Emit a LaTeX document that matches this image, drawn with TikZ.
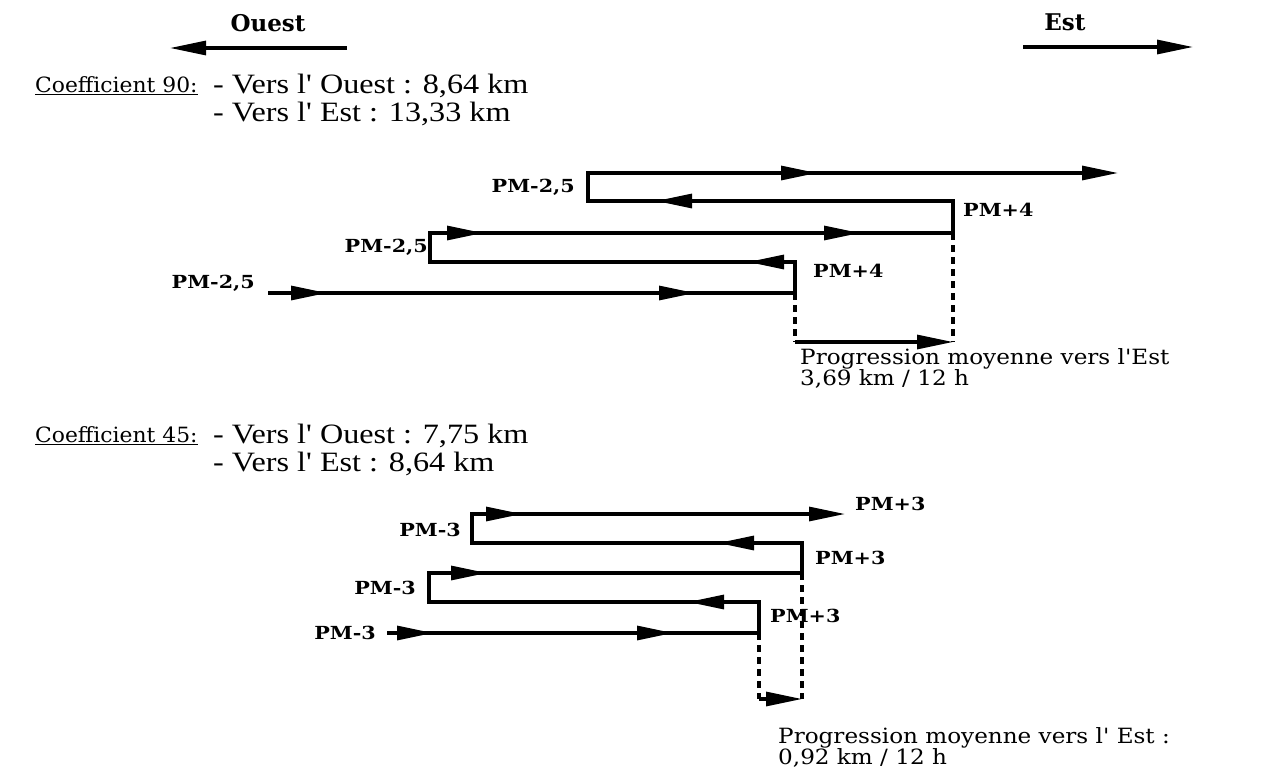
\documentclass[tikz,border=0pt]{standalone}
\usepackage{fontspec}
\setmainfont{Liberation Serif}
\newfontfamily\dvs{DejaVu Serif}
\newfontfamily\pmfont[FakeStretch=1.15]{DejaVu Serif}
\newfontfamily\progfont[FakeStretch=1.1]{DejaVu Serif}
\newfontfamily\coeffont[FakeStretch=1.04]{DejaVu Serif}
\newfontfamily\versfont[FakeStretch=1.15]{Liberation Serif}
\usetikzlibrary{arrows.meta}
\begin{document}
\begin{tikzpicture}[x=1pt,y=-1pt,
  ln/.style={line width=3.1pt, line join=miter},
  tp/.style={-{Triangle[length=36pt,width=14pt]}},
  dsh/.style={line width=3.1pt, dash pattern=on 7pt off 5pt},
  pm/.style={font=\pmfont\bfseries\fontsize{18}{18}\selectfont, inner sep=0pt},
  hd/.style={font=\dvs\bfseries\fontsize{23}{23}\selectfont, inner sep=0pt},
  coef/.style={font=\coeffont\fontsize{21}{21}\selectfont, inner sep=0pt, anchor=west},
  vers/.style={font=\versfont\fontsize{28}{28}\selectfont, inner sep=0pt, anchor=west},
  prog/.style={font=\progfont\fontsize{21}{21}\selectfont, inner sep=0pt, align=left, anchor=north west}]
\useasboundingbox (0,0) rectangle (1265,771);
% header
\node[hd] (ouest) at (268,23) {Ouest};
\node[hd] (est) at (1065,22) {Est};
\coordinate (o1) at (347,48); \coordinate (o2) at (170,48);
\coordinate (e1) at (1023,47); \coordinate (e2) at (1193,47);
\draw[ln,tp] (o1) -- (o2);
\draw[ln,tp] (e1) -- (e2);
% coefficient 90
\node[coef] (c90) at (35,86) {\underline{Coefficient 90:}};
\node[vers] (v90a) at (213,86) {- Vers l' Ouest : 8,64 km};
\node[vers] (v90b) at (213,114) {- Vers l' Est : 13,33 km};
% diagram 1
\draw[ln,tp] (268,293) -- (795,293) -- (795,262) -- (430,262) -- (430,233) -- (953,233) -- (953,201) -- (588,201) -- (588,173) -- (1118,173);
\foreach \t/\y in {327/293, 695/293, 483/233, 860/233, 817/173}
  \draw[ln,tp] (\t-38,\y) -- (\t,\y);
\foreach \t/\y in {748/262, 656/201}
  \draw[ln,tp] (\t+38,\y) -- (\t,\y);
\draw[dsh] (795,293) -- (795,342);
\draw[dsh] (953,233) -- (953,342);
\draw[ln,tp] (795,342) -- (953,342);
\node[pm, anchor=east] (a1) at (575,187) {PM-2,5};
\node[pm, anchor=east] (a2) at (428,247) {PM-2,5};
\node[pm, anchor=east] (a3) at (255,283) {PM-2,5};
\node[pm, anchor=west] (b1) at (963,210) {PM+4};
\node[pm, anchor=west] (b2) at (813,271) {PM+4};
\node[prog] (p1) at (800,348) {Progression moyenne vers l'Est\\3,69 km / 12 h};
% coefficient 45
\node[coef] (c45) at (35,436) {\underline{Coefficient 45:}};
\node[vers] (v45a) at (213,436) {- Vers l' Ouest : 7,75 km};
\node[vers] (v45b) at (213,464) {- Vers l' Est : 8,64 km};
% diagram 2
\draw[ln,tp] (387,633) -- (759,633) -- (759,602) -- (429,602) -- (429,573) -- (802,573) -- (802,543) -- (472,543) -- (472,514) -- (845,514);
\foreach \t/\y in {433/633, 673/633, 487/573, 522/514}
  \draw[ln,tp] (\t-38,\y) -- (\t,\y);
\foreach \t/\y in {688/602, 718/543}
  \draw[ln,tp] (\t+38,\y) -- (\t,\y);
\draw[dsh] (759,633) -- (759,699);
\draw[dsh] (802,573) -- (802,699);
\draw[ln,tp] (759,699) -- (802,699);
\node[pm, anchor=east] (m1) at (461,530) {PM-3};
\node[pm, anchor=east] (m2) at (416,588) {PM-3};
\node[pm, anchor=east] (m3) at (376,633) {PM-3};
\node[pm, anchor=west] (n1) at (855,504) {PM+3};
\node[pm, anchor=west] (n2) at (815,558) {PM+3};
\node[pm, anchor=west] (n3) at (770,616) {PM+3};
\node[prog] (p2) at (778,727) {Progression moyenne vers l' Est :\\0,92 km / 12 h};
\end{tikzpicture}
\end{document}
